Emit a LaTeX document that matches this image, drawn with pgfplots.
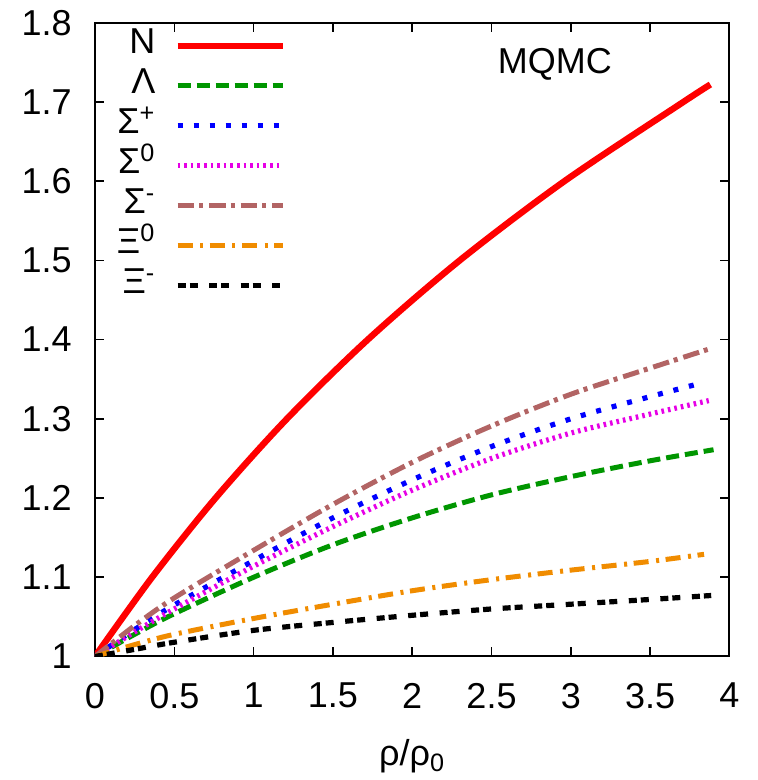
\documentclass[border=0pt]{standalone}
\usepackage{fontspec}
\setmainfont{Liberation Sans}
\usepackage{pgfplots}
\pgfplotsset{compat=1.18}
\definecolor{cred}{RGB}{255,0,0}
\definecolor{cgreen}{RGB}{0,150,0}
\definecolor{cblue}{RGB}{0,0,255}
\definecolor{cmag}{RGB}{230,0,230}
\definecolor{cbrown}{RGB}{178,100,100}
\definecolor{corange}{RGB}{240,140,0}
\begin{document}
\fontsize{18}{21}\selectfont
\begin{tikzpicture}
\begin{axis}[
  scale only axis, width=317.2pt, height=316.9pt,
  xmin=0, xmax=4, ymin=1, ymax=1.8,
  xtick={0,0.5,1,1.5,2,2.5,3,3.5,4},
  xticklabels={0,0.5,1,1.5,2,2.5,3,3.5,4},
  ytick={1,1.1,1.2,1.3,1.4,1.5,1.6,1.7,1.8},
  yticklabels={1,1.1,1.2,1.3,1.4,1.5,1.6,1.7,1.8},
  tick align=inside, major tick length=4.5pt,
  axis line style={line width=1pt},
  tick style={black, line width=0.8pt},
  /pgf/number format/assume math mode=true,
  ticklabel style={font=\fontsize{18}{21}\selectfont},
  yticklabel style={xshift=-5.5pt},
  xticklabel style={yshift=-7pt},
  xlabel={ρ/ρ\textsubscript{0}},
  xlabel style={font=\fontsize{18}{21}\selectfont, at={(axis description cs:0.5,0)}, anchor=center, yshift=-50pt},
  legend style={draw=none, fill=none, at={(axis cs:1.205,1.7965)}, anchor=north east, inner sep=0pt,
    font=\fontsize{18}{21}\selectfont,
    nodes={text height=12pt, text depth=4pt, inner sep=2pt},
    /tikz/every odd column/.append style={column sep=7.5pt}},
  legend cell align=right, legend plot pos=right,
  legend image code/.code={\draw[#1] (0pt,0pt) -- (52.5pt,0pt);},
]
\addplot[cred, line width=3.2pt, smooth] coordinates {
(0,1.000) (0.36,1.100) (0.76,1.200) (1.21,1.300) (1.72,1.400) (2.30,1.500) (2.96,1.600) (3.71,1.700) (3.88,1.722)};
\addlegendentry{N}
\addplot[cgreen, line width=2.5pt, smooth, dash pattern=on 6.5pt off 3pt] coordinates {
(0,1.000) (0.25,1.028) (0.5,1.054) (1.0,1.100) (1.5,1.141) (2.0,1.175) (2.5,1.204) (3.0,1.227) (3.5,1.247) (3.9,1.261)};
\addlegendentry{Λ}
\addplot[cblue, line width=2.6pt, smooth, dash pattern=on 2.5pt off 5.5pt] coordinates {
(0,1.000) (0.25,1.034) (0.5,1.065) (1.0,1.121) (1.5,1.175) (2.0,1.223) (2.5,1.265) (3.0,1.300) (3.5,1.328) (3.84,1.346)};
\addlegendentry{Σ\textsuperscript{+}}
\addplot[cmag, line width=2.6pt, smooth, dash pattern=on 1.3pt off 2pt] coordinates {
(0,1.000) (0.25,1.031) (0.5,1.060) (1.0,1.114) (1.5,1.164) (2.0,1.210) (2.5,1.250) (3.0,1.282) (3.5,1.306) (3.87,1.323)};
\addlegendentry{Σ\textsuperscript{0}}
\addplot[cbrown, line width=2.5pt, smooth, dash pattern=on 8.3pt off 2.5pt on 2pt off 3pt] coordinates {
(0,1.000) (0.25,1.039) (0.5,1.074) (1.0,1.134) (1.5,1.192) (2.0,1.245) (2.5,1.291) (3.0,1.331) (3.5,1.364) (3.885,1.389)};
\addlegendentry{Σ\textsuperscript{-}}
\addplot[corange, line width=2.5pt, smooth, dash pattern=on 7.5pt off 3.8pt on 1.5pt off 3.3pt] coordinates {
(0,1.000) (0.25,1.015) (0.5,1.028) (1.0,1.048) (1.5,1.066) (2.0,1.083) (2.5,1.097) (3.0,1.109) (3.5,1.120) (3.84,1.129)};
\addlegendentry{Ξ\textsuperscript{0}}
\addplot[black, line width=2.6pt, smooth, dash pattern=on 4pt off 2pt on 4pt off 5.8pt] coordinates {
(0,1.000) (0.25,1.009) (0.5,1.018) (1.0,1.033) (1.5,1.043) (2.0,1.052) (2.5,1.060) (3.0,1.066) (3.5,1.072) (3.885,1.077)};
\addlegendentry{Ξ\textsuperscript{-}}
\node at (axis cs:2.90,1.748) {MQMC};
\coordinate (SW) at (rel axis cs:0,0);
\coordinate (NE) at (rel axis cs:1,1);
\end{axis}
\pgfresetboundingbox
\path ([shift={(-47.5pt,-61.75pt)}]SW) rectangle ([shift={(13.85pt,11.35pt)}]NE);
\end{tikzpicture}
\end{document}
